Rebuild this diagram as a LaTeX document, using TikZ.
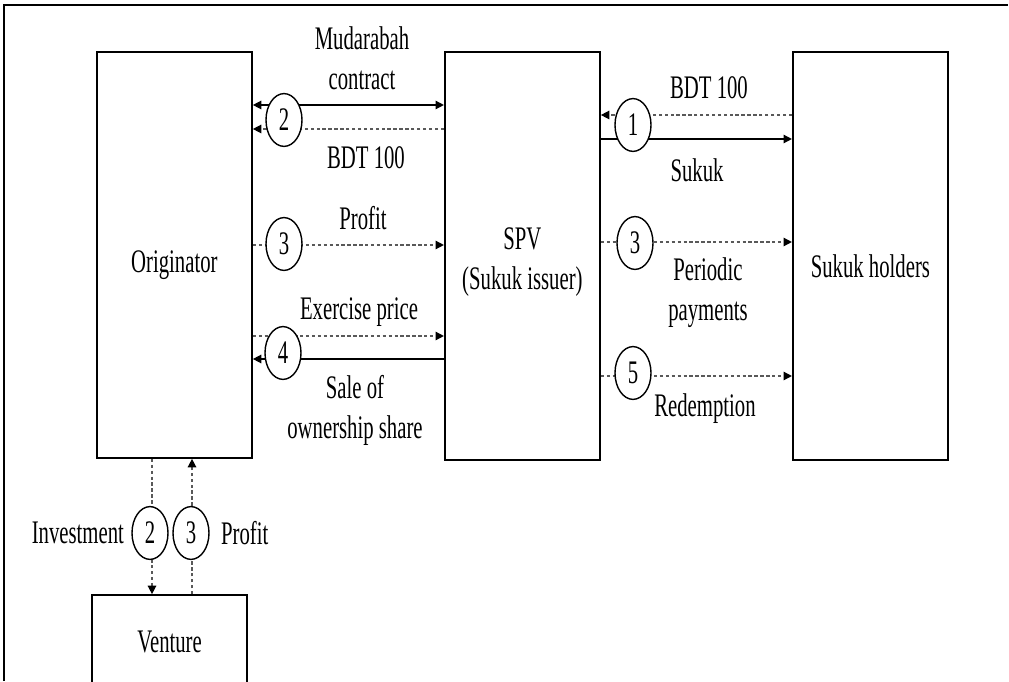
\documentclass[tikz,border=0pt]{standalone}
\usepackage{fontspec}
\setmainfont{Liberation Serif}[FakeStretch=0.63]
\usepackage{tikz}
\usetikzlibrary{shapes.geometric, arrows.meta, positioning, calc}

\tikzset{
  block/.style={draw, line width=0.6pt, minimum width=1.94cm, inner sep=0pt},
  numcirc/.style={ellipse, draw, fill=white, line width=0.5pt, minimum width=0.45cm, minimum height=0.66cm, inner sep=0pt},
  solidflow/.style={line width=0.5pt, -{Triangle[length=3pt,width=3pt]}},
  bothflow/.style={line width=0.5pt, {Triangle[length=3pt,width=3pt]}-{Triangle[length=3pt,width=3pt]}},
  dotflow/.style={line width=0.5pt, black!65, dash pattern=on 1.2pt off 0.9pt, -{Triangle[length=3pt,width=3pt,black]}}
}

\begin{document}
\begin{tikzpicture}[font=\fontsize{11.7}{14.2}\selectfont]
  \useasboundingbox (0,0) rectangle (12.6125,8.5125);

  % Frame
  \draw[line width=0.75pt] (0.046,0) -- (0.046,8.45) -- (12.6,8.45);

  % Boxes
  \node[block, minimum height=5.075cm] (orig) at (2.18,5.325) {};
  \node[block, minimum height=5.1cm] (spv) at (6.53,5.3125) {};
  \node[block, minimum height=5.1cm] (holders) at (10.88,5.3125) {};
  \node[block, minimum height=1.175cm] (venture) at (2.12,0.4875) {Venture};

  % Box texts
  \node at ([yshift=-0.125cm]orig.center) {Originator};
  \node[align=center] at ([yshift=-0.075cm]spv.center) {SPV\\(Sukuk issuer)};
  \node at ([yshift=-0.125cm]holders.center) {Sukuk holders};

  % Arrow levels
  \coordinate (r1a) at (0,7.2);
  \coordinate (r1b) at (0,6.9);
  \coordinate (r1c) at (0,7.075);
  \coordinate (r1d) at (0,6.775);
  \coordinate (r3a) at (0,5.45);
  \coordinate (r3b) at (0,5.4875);
  \coordinate (r4a) at (0,4.3125);
  \coordinate (r4b) at (0,4.025);
  \coordinate (r5) at (0,3.8125);
  \coordinate (vinv) at (1.9,0);
  \coordinate (vprof) at (2.4,0);

  % Originator -- SPV
  \draw[bothflow] (orig.east |- r1a) -- (spv.west |- r1a);
  \draw[dotflow] (spv.west |- r1b) -- (orig.east |- r1b);
  \draw[dotflow] (orig.east |- r3a) -- (spv.west |- r3a);
  \draw[dotflow] (orig.east |- r4a) -- (spv.west |- r4a);
  \draw[solidflow] (spv.west |- r4b) -- (orig.east |- r4b);

  % SPV -- Sukuk holders
  \draw[dotflow] (holders.west |- r1c) -- (spv.east |- r1c);
  \draw[solidflow] (spv.east |- r1d) -- (holders.west |- r1d);
  \draw[dotflow] (spv.east |- r3b) -- (holders.west |- r3b);
  \draw[dotflow] (spv.east |- r5) -- (holders.west |- r5);

  % Originator -- Venture
  \draw[dotflow] (orig.south -| vinv) -- (venture.north -| vinv);
  \draw[dotflow] (venture.north -| vprof) -- (orig.south -| vprof);

  % Step numbers
  \node[numcirc] (n2) at (3.55,7.0125) {2};
  \node[numcirc] (n1) at (7.9125,6.95) {1};
  \node[numcirc] (n3) at (3.55,5.4625) {3};
  \node[numcirc] (n3b) at (7.9375,5.475) {3};
  \node[numcirc] (n4) at (3.5375,4.1) {4};
  \node[numcirc] (n5) at (7.9125,3.85) {5};
  \node[numcirc] (n2v) at (1.875,1.85) {2};
  \node[numcirc] (n3v) at (2.3875,1.85) {3};

  % Labels
  \node[align=center] (lmud) at (4.525,7.7875) {Mudarabah\\contract};
  \node (lbdt) at (4.575,6.5375) {BDT 100};
  \node (lbdtr) at (8.8625,7.4125) {BDT 100};
  \node (lsukuk) at (8.7125,6.3875) {Sukuk};
  \node (lprof) at (4.5375,5.7875) {Profit};
  \node (lex) at (4.4875,4.6125) {Exercise price};
  \node[align=center] (lsale) at (4.4375,3.3875) {Sale of\\ownership share};
  \node[align=center] (lper) at (8.85,4.85) {Periodic\\payments};
  \node (lred) at (8.8125,3.4) {Redemption};
  \node[left=0.05cm of n2v, inner sep=1pt] (linv) {Investment};
  \node[right=0.1cm of n3v, inner sep=1pt] (lprofv) {Profit};
\end{tikzpicture}
\end{document}
